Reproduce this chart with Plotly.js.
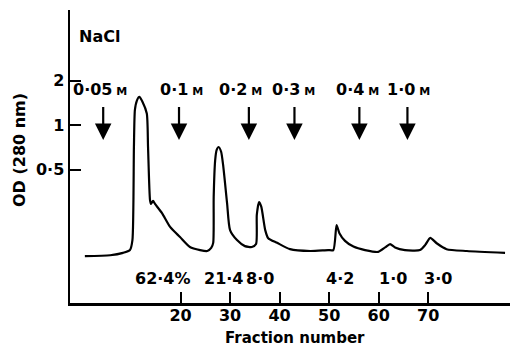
<!DOCTYPE html>
<html>
<head>
<meta charset="utf-8">
<script src="https://cdn.plot.ly/plotly-3.0.1.min.js"></script>
<style>html,body{margin:0;padding:0;background:#fff;}#chart{width:510px;height:347px;}</style>
</head>
<body>
<div id="chart"></div>
<script>
// Elution profile (fraction number vs OD 280 nm)
const fractions = [0.7, 5.8, 8.4, 9.8, 10.3, 10.6, 10.8, 11.2, 11.7, 12.3, 13.2, 13.45, 13.85, 14.05, 14.46, 14.86, 16.27, 17.9, 19.9, 21.9, 23.95, 25.4, 26.2, 26.6, 26.7, 27.0, 27.3, 27.7, 28.2, 28.6, 29.4, 30.0, 31.4, 33.0, 34.4, 35.25, 35.4, 35.85, 36.3, 37.1, 37.7, 39.5, 42.1, 46.2, 49.8, 50.85, 51.5, 52.07, 53.2, 54.9, 57.25, 59.9, 61.3, 62.3, 63.3, 65.3, 68.35, 69.4, 70.4, 71.7, 73.7, 77.8, 85.5];
const od = [0.129, 0.131, 0.136, 0.142, 0.166, 0.711, 1.27, 1.47, 1.56, 1.45, 1.2, 0.711, 0.31, 0.292, 0.306, 0.292, 0.253, 0.204, 0.174, 0.149, 0.142, 0.140, 0.147, 0.159, 0.326, 0.58, 0.679, 0.711, 0.66, 0.537, 0.296, 0.194, 0.166, 0.151, 0.149, 0.156, 0.246, 0.301, 0.28, 0.194, 0.171, 0.159, 0.144, 0.140, 0.142, 0.142, 0.210, 0.185, 0.164, 0.150, 0.142, 0.138, 0.148, 0.156, 0.148, 0.142, 0.142, 0.154, 0.172, 0.158, 0.144, 0.140, 0.136];

// NaCl step arrows
const arrowFractions = [4.4, 19.7, 33.8, 43.0, 56.1, 65.8];
const arrowLabelFractions = [3.7, 20.3, 32.2, 42.9, 55.8, 66.1];
const arrowLabels = ['0·05', '0·1', '0·2', '0·3', '0·4', '1·0'];

// Percent recovery under peaks
const percentFractions = [16.4, 28.6, 36.1, 52.2, 62.9, 72.0];
const percentLabels = ['62·4%', '21·4', '8·0', '4·2', '1·0', '3·0'];

// Axis ticks
const xTicks = [20, 30, 40, 50, 60, 70];
const yTicks = [0.5, 1, 2];
const yTickText = ['0·5', '1', '2'];

const FONT = {family: 'DejaVu Sans', size: 16, color: '#000', weight: 'bold'};

const annotations = [];
arrowFractions.forEach((f) => {
  annotations.push({x: f, xref: 'x', y: 0.556, yref: 'paper', text: ' ', font: {size: 1}, showarrow: true,
    ax: 0, ay: -35, arrowhead: 2, arrowsize: 1.5, arrowwidth: 2.2, arrowcolor: '#000', standoff: 0, startstandoff: 0});
});
arrowLabels.forEach((t, i) => {
  annotations.push({x: arrowLabelFractions[i], xref: 'x', y: 0.727, yref: 'paper', showarrow: false,
    text: t + '<span style="font-size:11px"> M</span>', font: FONT, xanchor: 'center', yanchor: 'middle'});
});
percentLabels.forEach((t, i) => {
  annotations.push({x: percentFractions[i], xref: 'x', y: 0.085, yref: 'paper', showarrow: false,
    text: t, font: FONT, xanchor: 'center', yanchor: 'middle'});
});
annotations.push({x: 3.7, xref: 'x', y: 0.908, yref: 'paper', showarrow: false, text: 'NaCl', font: FONT, xanchor: 'center', yanchor: 'middle'});
annotations.push({x: 0.511, xref: 'paper', y: -0.118, yref: 'paper', showarrow: false, text: 'Fraction number',
  font: {family: 'DejaVu Sans', size: 15, color: '#000', weight: 'bold'}, borderpad: 0, xanchor: 'center', yanchor: 'middle'});
annotations.push({x: -0.116, xref: 'paper', y: 0.522, yref: 'paper', showarrow: false, text: 'OD (280 nm)', font: FONT, textangle: -90, xanchor: 'center', yanchor: 'middle'});

const trace = {x: fractions, y: od, type: 'scatter', mode: 'lines',
  line: {color: '#000', width: 2.2, shape: 'spline', smoothing: 0.6}, hoverinfo: 'skip'};

const layout = {
  width: 510, height: 347,
  margin: {l: 70, r: 0, t: 10, b: 44},
  paper_bgcolor: '#fff', plot_bgcolor: '#fff',
  showlegend: false,
  font: FONT,
  xaxis: {range: [-2.3, 86.5], tickvals: xTicks, ticks: 'inside', ticklen: 11, tickwidth: 2, tickcolor: '#000',
    showline: true, linecolor: '#000', linewidth: 2.5, showgrid: false, zeroline: false, tickfont: FONT,
    ticklabelstandoff: -4},
  yaxis: {type: 'log', range: [-1.207, 0.782], tickvals: yTicks, ticktext: yTickText, ticks: 'inside', ticklen: 11,
    tickwidth: 2, tickcolor: '#000', showline: true, linecolor: '#000', linewidth: 2.5, showgrid: false, zeroline: false, tickfont: FONT},
  annotations: annotations
};

Plotly.newPlot('chart', [trace], layout, {staticPlot: true, displayModeBar: false});
</script>
</body>
</html>
